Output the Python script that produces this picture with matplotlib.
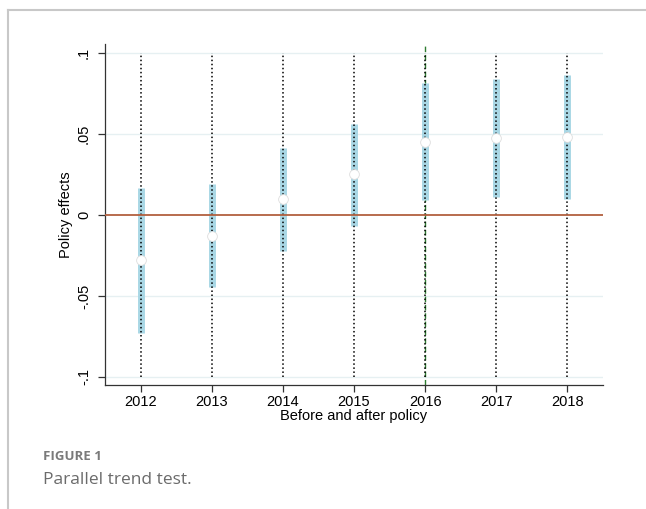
import matplotlib.pyplot as plt
from matplotlib.lines import Line2D

plt.rcParams['font.family'] = ['Liberation Sans', 'DejaVu Sans']

# event-study estimates with 95% intervals
years = [2012, 2013, 2014, 2015, 2016, 2017, 2018]
coef = [-0.0278, -0.0130, 0.0099, 0.0253, 0.0452, 0.0475, 0.0483]
ci_low = [-0.0727, -0.0446, -0.0222, -0.0068, 0.0093, 0.0111, 0.0099]
ci_high = [0.0169, 0.0193, 0.0414, 0.0562, 0.0817, 0.0840, 0.0866]
policy_year = 2016
yticks = [-0.1, -0.05, 0, 0.05, 0.1]
ytick_labels = ['-.1', '-.05', '0', '.05', '.1']

W, H = 646, 509
fig = plt.figure(figsize=(W / 100, H / 100), dpi=100)

# card border (top and left)
fig.add_artist(Line2D([8 / W, 1], [1 - 10 / H, 1 - 10 / H], color='#c8c8c8', lw=1.5))
fig.add_artist(Line2D([8 / W, 8 / W], [0, 1 - 10 / H], color='#c8c8c8', lw=1.5))

ax = fig.add_axes([105 / W, 1 - 385 / H, (603 - 105) / W, (385 - 44) / H])
ax.set_xlim(2011.5, 2018.5)
ax.set_ylim(-0.105, 0.1055)

for y in yticks:
    if y != 0:
        ax.axhline(y, color='#e6f0f2', lw=1, zorder=0)

ax.axvline(policy_year, color='#2e7d32', lw=1, ls=(0, (4, 2)), zorder=1)
ax.vlines(years, ci_low, ci_high, color='#a9d7e5', lw=5, zorder=2)
ax.vlines(years, -0.1, 0.1, color='black', lw=1.1, ls=':', zorder=3)
ax.axhline(0, color='#b2603f', lw=1.3, zorder=4)
ax.plot(years, coef, 'o', ms=7, mfc='white', mec='#dddddd', mew=0.6, zorder=5)

for side in ['top', 'right']:
    ax.spines[side].set_visible(False)
for side in ['left', 'bottom']:
    ax.spines[side].set_linewidth(0.9)
    ax.spines[side].set_color('#333333')

ax.set_xticks(years)
ax.set_xticklabels([str(y) for y in years], fontsize=10.5)
ax.set_yticks(yticks)
ax.set_yticklabels(ytick_labels, fontsize=10.5, rotation=90, va='center')
ax.tick_params(axis='both', direction='out', length=5, width=0.9, color='#333333')
ax.tick_params(axis='x', pad=2)
ax.tick_params(axis='y', pad=5)

ax.set_xlabel('Before and after policy', fontsize=10.5, labelpad=0.5)
ax.set_ylabel('Policy effects', fontsize=10.5, labelpad=3)

fig.text(43 / W, 1 - 457 / H, 'FIGURE 1', fontsize=9.5, color='#7a7a7a',
         fontweight='bold', family=['Open Sans', 'DejaVu Sans'], va='center')
fig.text(43 / W, 1 - 480 / H, 'Parallel trend test.', fontsize=12.5, color='#6b6b6b',
         family=['Open Sans', 'DejaVu Sans'], va='center')

fig.savefig('out.png', dpi=100)
